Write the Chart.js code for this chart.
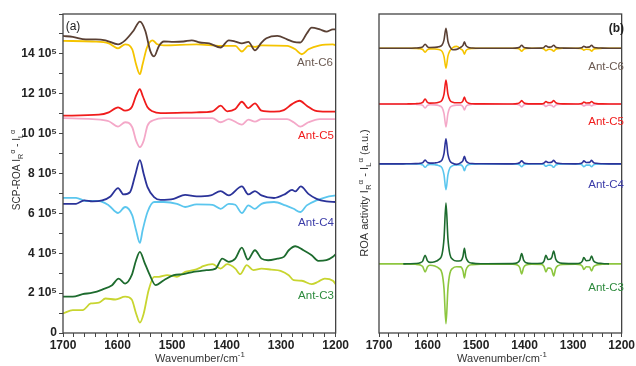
<!DOCTYPE html>
<html><head><meta charset="utf-8">
<script src="https://cdn.jsdelivr.net/npm/chart.js@4.4.1/dist/chart.umd.min.js"></script>
<style>
html,body{margin:0;padding:0;background:#fff;width:636px;height:366px;overflow:hidden}
#wrapL{position:absolute;left:0;top:0;width:350px;height:366px}
#wrapR{position:absolute;left:350px;top:0;width:286px;height:366px}
</style></head><body>
<div id="wrapL"><canvas id="cL" width="350" height="366"></canvas></div>
<div id="wrapR"><canvas id="cR" width="286" height="366"></canvas></div>
<script>
// ---------- DATA ----------
const seriesNames = ['Ant-C6','Ant-C5','Ant-C4','Ant-C3'];
const xTickLabels = [1700,1600,1500,1400,1300,1200];
const yTickLabels = [0,2,4,6,8,10,12,14]; // units of 10^5

// Left panel (a): SCP-ROA, values in 10^5 units, [wavenumber, value]
const aC6up = [[1700,14.9],[1682,14.85],[1658,14.73],[1640,14.73],[1622,14.68],[1599,14.48],[1586,14.68],[1571,15.15],[1559,15.62],[1549,15.15],[1540,14.15],[1533,13.87],[1524,14.4],[1515,14.62],[1497,14.6],[1479,14.62],[1464,14.68],[1449,14.57],[1432,14.53],[1411,14.32],[1396,14.68],[1384,14.62],[1372,14.53],[1360,14.6],[1348,14.18],[1336,14.57],[1327,14.78],[1307,14.9],[1289,14.73],[1277,14.6],[1265,14.57],[1253,15.02],[1244,15.32],[1229,15.23],[1217,15.12],[1205,15.23],[1200,15.22]];
const aC6down = [[1700,14.65],[1646,14.62],[1616,14.53],[1599,14.28],[1586,14.48],[1573,14.23],[1566,13.48],[1559,12.98],[1554,13.48],[1546,14.32],[1536,14.68],[1527,14.48],[1515,14.43],[1455,14.48],[1411,14.4],[1384,14.4],[1372,14.12],[1360,14.4],[1348,14.35],[1336,14.43],[1289,14.4],[1274,14.23],[1262,13.98],[1250,14.23],[1229,14.43],[1205,14.48],[1200,14.43]];
const aC5up = [[1700,10.9],[1634,10.95],[1616,11.07],[1599,11.32],[1586,11.15],[1574,11.32],[1566,11.9],[1559,12.23],[1554,11.9],[1545,11.32],[1536,11.12],[1521,11.03],[1455,11.07],[1426,11.12],[1411,11.4],[1399,11.12],[1384,11.23],[1372,11.6],[1360,11.28],[1348,11.52],[1336,11.15],[1313,11.1],[1295,11.18],[1280,11.48],[1266,11.65],[1253,11.4],[1238,11.15],[1217,11.1],[1200,11.1]];
const aC5down = [[1700,10.78],[1646,10.73],[1616,10.62],[1599,10.35],[1586,10.57],[1573,10.32],[1566,9.65],[1559,9.32],[1552,9.65],[1545,10.4],[1533,10.68],[1515,10.78],[1426,10.78],[1411,10.57],[1396,10.73],[1372,10.45],[1360,10.7],[1348,10.6],[1336,10.73],[1289,10.73],[1277,10.57],[1265,10.35],[1250,10.57],[1229,10.73],[1200,10.73]];
const aC4up = [[1700,6.48],[1676,6.48],[1661,6.65],[1646,6.6],[1628,6.65],[1613,6.85],[1599,7.27],[1589,6.95],[1577,7.07],[1567,7.98],[1559,8.67],[1552,7.98],[1545,7.32],[1533,6.82],[1521,6.68],[1497,6.73],[1476,6.93],[1455,6.85],[1429,6.9],[1411,7.12],[1396,6.9],[1372,7.35],[1360,6.95],[1348,7.12],[1336,6.9],[1313,6.77],[1292,6.98],[1280,7.18],[1274,7.1],[1264,7.35],[1250,6.98],[1235,6.73],[1217,6.6],[1200,6.57]];
const aC4down = [[1700,6.78],[1676,6.78],[1658,6.62],[1634,6.62],[1616,6.4],[1599,6.02],[1586,6.32],[1573,5.9],[1566,5.15],[1559,4.52],[1554,5.15],[1545,6.07],[1533,6.57],[1515,6.57],[1491,6.48],[1476,6.32],[1455,6.45],[1426,6.43],[1411,6.23],[1396,6.48],[1384,6.43],[1372,6.02],[1360,6.4],[1348,6.23],[1336,6.48],[1313,6.57],[1292,6.4],[1277,6.23],[1265,6.07],[1253,6.4],[1235,6.65],[1217,6.82],[1200,6.9]];
const aC3up = [[1700,1.82],[1682,1.82],[1664,1.95],[1646,2.02],[1628,2.18],[1610,2.4],[1598,2.73],[1586,2.48],[1574,2.9],[1566,3.65],[1559,4.07],[1551,3.57],[1542,2.98],[1530,2.4],[1515,2.65],[1497,2.9],[1479,2.95],[1461,3.07],[1449,3.1],[1437,3.15],[1420,3.23],[1408,3.73],[1396,3.57],[1384,3.73],[1372,4.28],[1361,3.68],[1348,4.15],[1336,3.73],[1324,3.65],[1307,3.73],[1295,3.82],[1286,4.15],[1274,4.35],[1259,4.15],[1244,3.9],[1232,3.62],[1217,3.65],[1205,3.82],[1200,3.95]];
const aC3down = [[1700,0.98],[1682,1.15],[1664,1.15],[1649,1.48],[1634,1.52],[1622,1.73],[1604,1.68],[1586,1.82],[1574,1.68],[1566,0.98],[1559,0.52],[1552,0.98],[1543,2.15],[1533,2.82],[1524,2.82],[1509,2.9],[1491,2.82],[1476,3.07],[1461,3.15],[1449,3.27],[1443,3.35],[1426,3.45],[1411,3.23],[1399,3.45],[1384,3.23],[1375,2.95],[1363,3.4],[1351,3.15],[1336,3.23],[1318,3.18],[1301,3.12],[1286,2.9],[1277,2.65],[1262,2.62],[1244,2.45],[1232,2.57],[1220,2.73],[1205,2.62],[1200,2.45]];

// Right panel (b): calculated ROA activity (a.u.), shared wavenumbers
const rightX = [1700,1650,1640,1625,1615,1610,1605,1600,1595,1585,1577,1570,1566,1562,1558,1554,1548,1540,1532,1527,1524,1521,1516,1508,1490,1425,1415,1410,1406,1402,1397,1385,1365,1360,1356,1352,1348,1344,1340,1336,1331,1320,1295,1285,1281,1278,1273,1266,1262,1258,1252,1240,1226,1200];
const rightOffsets = [285.7, 229.7, 169.7, 69.3]; // vertical stacking offsets of C6, C5, C4, C3
const bC6up = [0,0,0,0.2,0.6,1.3,4,1.4,0.7, 0.8,1.4,3.2,8.4,20,7,1.5,-1.5,-1.2, 0.8,2.8,6.5,2.8,0.8,0.2,0,0,0.3,1.1,3,1.1,0.3,0,0.1,0.8,2.5,1.3,1.1,1.5,3,1.1,0.4,0.1,0,0.2,0.8,2,1,1.3,3,1.1,0.4,0.1,0,0];
const bC6down = [0,0,0,-0.2,-0.6,-1.3,-4,-1.4,-0.7, -0.8,-1.4,-3.2,-8.4,-20,-8,-2.8,0.5,1.8, -0.6,-2.6,-6,-2.6,-0.8,-0.2,0,0,-0.3,-1.1,-3,-1.1,-0.3,0,-0.1,-0.8,-2.5,-1.3,-1.1,-1.5,-3,-1.1,-0.4,-0.1,0,-0.2,-0.8,-2,-1,-1.3,-3,-1.1,-0.4,-0.1,0,0];
const bC5up = [0,0,0.1,0.3,0.7,1.6,5,1.7,0.9, 1.0,1.7,3.9,10,24,10,3.9,1.8,1.2, 1.2,3.2,7,3.1,1.0,0.3,0.1,0,0.4,1.3,3.5,1.3,0.4,0.1,0.1,0.8,2.5,1.4,1.3,1.8,3.5,1.3,0.5,0.1,0,0.2,0.8,2,1.0,1.1,2.5,1.0,0.4,0.1,0,0];
const bC5down = [0,0,-0.1,-0.3,-0.6,-1.3,-4,-1.4,-0.8, -0.9,-1.6,-3.7,-9.6,-23,-9.6,-3.7,-1.7,-1.1, -1.1,-2.7,-6,-2.6,-0.9,-0.3,-0.1,0,-0.3,-1.1,-3,-1.1,-0.3,-0.1,-0.1,-0.8,-2.5,-1.3,-1.1,-1.5,-3,-1.1,-0.4,-0.1,0,-0.2,-0.8,-2,-0.9,-0.9,-2,-0.8,-0.3,-0.1,0,0];
const bC4up = [0,0,0.1,0.2,0.5,1.2,3.7,1.3,0.7, 0.9,1.7,4,10.5,25,9.5,3,0.6,-0.5, 1.0,3.3,7.6,3.3,1.0,0.3,0.1,0,0.3,1.1,3,1.1,0.3,0.1,0.1,0.8,2.5,1.4,1.3,1.8,3.5,1.3,0.5,0.1,0,0.3,1.2,3,1.4,1.5,3.5,1.3,0.5,0.1,0,0];
const bC4down = [0,0,-0.1,-0.2,-0.5,-1.1,-3.5,-1.2,-0.7, -1.0,-1.8,-4.2,-11,-26,-11,-4.2,-1.8,-1.1, -1.0,-3.0,-7,-3.0,-0.9,-0.3,-0.1,0,-0.3,-1.1,-3,-1.1,-0.3,-0.1,-0.1,-0.8,-2.5,-1.4,-1.3,-1.8,-3.5,-1.3,-0.5,-0.1,0,-0.3,-1.2,-3,-1.3,-1.3,-3,-1.1,-0.4,-0.1,0,0];
const bC3up = [null,0,0.2,0.4,1.2,2.8,8.7,3.0,1.5, 2.2,4.3,9.8,25.6,61,25.6,9.8,4.5,3.0, 3.2,7.5,15.7,7,2.2,0.8,0.2,0.3,1.2,3.8,10.4,3.8,1.2,0.4,0.6,2.8,8.7,4.5,4.6,6.5,13,5,1.8,0.5,0.3,1,2.8,6.4,3.2,3.6,8,3.2,1.2,0.4,0,null];
const bC3down = [0,0,-0.2,-0.4,-1.1,-2.6,-8,-2.8,-1.4, -2.1,-4.2,-9.6,-25,-60,-25,-9.6,-4.3,-2.9, -3.0,-6.8,-14,-6.3,-2.0,-0.7,-0.2,-0.3,-1.1,-3.6,-10,-3.6,-1.1,-0.4,-0.5,-2.6,-8,-4.2,-4.2,-6,-12,-4.6,-1.7,-0.5,-0.3,-0.9,-2.4,-5.5,-2.8,-3.2,-7,-2.8,-1.1,-0.4,0,0];

// ---------- STYLE ----------
const FAM = "'Liberation Sans', Arial, sans-serif";
const colUp = ['#5a4034','#f01c1c','#2b3399','#1d6b2e'];
const colDownA = ['#f5c400','#f4a8c8','#5bc6ee','#c8d530'];
const colDownB = ['#f5c400','#f4a8c8','#5bc6ee','#8dc63f'];
const labelCol = ['#6b5a52','#f01c1c','#3b3ca8','#2e8b3e'];

function drawRich(ctx, parts, cx, cy, size, color, rotate){
  ctx.save();
  ctx.translate(cx, cy);
  if (rotate) ctx.rotate(-Math.PI/2);
  ctx.fillStyle = color; ctx.textBaseline = 'alphabetic'; ctx.textAlign = 'left';
  const widths = parts.map(p => { ctx.font = (p.s ? size*0.72 : size) + 'px ' + FAM; return ctx.measureText(p.t).width; });
  const total = widths.reduce((a,b)=>a+b,0);
  let x = -total/2;
  parts.forEach((p,i) => {
    ctx.font = (p.s ? size*0.72 : size) + 'px ' + FAM;
    const dy = p.s === -1 ? size*0.3 : (p.s === 1 ? -size*0.42 : 0);
    ctx.fillText(p.t, x, size*0.36 + dy);
    x += widths[i];
  });
  ctx.restore();
}

const decoPlugin = {
  id: 'deco',
  afterDraw(chart, args, opts) {
    const {ctx, chartArea: a} = chart;
    ctx.save();
    ctx.strokeStyle = '#444'; ctx.lineWidth = 1.3;
    ctx.strokeRect(a.left, a.top, a.right - a.left, a.bottom - a.top);
    (opts.texts || []).forEach(t => {
      ctx.font = t.font; ctx.fillStyle = t.color; ctx.textAlign = t.align || 'center'; ctx.textBaseline = 'middle';
      ctx.fillText(t.text, t.x, t.y);
    });
    (opts.rich || []).forEach(r => drawRich(ctx, r.parts, r.x, r.y, r.size, r.color, r.rotate));
    ctx.restore();
  }
};

function xScale(){
  return {
    type: 'linear', reverse: true, min: 1200, max: 1700,
    afterFit: s => { s.height = 33; },
    ticks: { stepSize: 20, autoSkip: false, maxRotation: 0, padding: 1, color: '#222',
      font: { family: FAM, size: 12, weight: 'bold' },
      callback: v => xTickLabels.includes(v) ? String(v) : '' },
    grid: { drawOnChartArea: false, tickLength: 4, color: '#444' },
    border: { display: false }
  };
}

const lineDs = (arr, color, w) => ({
  data: arr.map(([x,y]) => ({x, y})), borderColor: color, borderWidth: w,
  pointRadius: 0, fill: false, cubicInterpolationMode: 'monotone'
});

const leftDatasets = [];
[[aC6up,aC6down],[aC5up,aC5down],[aC4up,aC4down],[aC3up,aC3down]].forEach((pair,i)=>{
  leftDatasets.push(lineDs(pair[0], colUp[i], 1.8));
  leftDatasets.push(lineDs(pair[1], colDownA[i], 1.8));
});

new Chart(document.getElementById('cL'), {
  type: 'line',
  data: { datasets: leftDatasets },
  options: {
    responsive: false, animation: false, devicePixelRatio: 1,
    layout: { padding: { top: 14, right: 7, left: 0, bottom: 0 } },
    plugins: { legend: { display: false }, tooltip: { enabled: false },
      deco: {
        texts: [
          { text: '(a)', x: 73, y: 27, font: '12px ' + FAM, color: '#222' },
          { text: seriesNames[0], x: 315, y: 63, font: '11.5px ' + FAM, color: labelCol[0] },
          { text: seriesNames[1], x: 316, y: 136, font: '11.5px ' + FAM, color: labelCol[1] },
          { text: seriesNames[2], x: 316, y: 223, font: '11.5px ' + FAM, color: labelCol[2] },
          { text: seriesNames[3], x: 316, y: 296, font: '11.5px ' + FAM, color: labelCol[3] }
        ],
        rich: [
          { parts: [{t:'SCP-ROA I'},{t:'R',s:-1},{t:'α',s:1},{t:' - I'},{t:'L',s:-1},{t:'α',s:1}], x: 16, y: 170, size: 10, color: '#333', rotate: true },
          { parts: [{t:'Wavenumber/cm'},{t:'-1',s:1}], x: 200, y: 358, size: 11, color: '#333' }
        ]
      }
    },
    scales: {
      x: xScale(),
      y: {
        min: 0, max: 16,
        afterFit: s => { s.width = 63; },
        ticks: { stepSize: 1, autoSkip: false, padding: 2, color: '#222',
          font: { family: FAM, size: 12, weight: 'bold' },
          callback: v => yTickLabels.includes(v) ? (v === 0 ? '0' : v + ' 10⁵') : '' },
        grid: { drawOnChartArea: false, tickLength: 4, color: '#444' },
        border: { display: false }
      }
    }
  },
  plugins: [decoPlugin]
});

const rightDatasets = [];
[[bC6up,bC6down],[bC5up,bC5down],[bC4up,bC4down],[bC3up,bC3down]].forEach((pair,i)=>{
  const base = rightOffsets[i];
  rightDatasets.push(lineDs(rightX.map((x,k)=>[x, pair[0][k] === null ? null : base + pair[0][k]]), colUp[i], 1.6));
  rightDatasets.push(lineDs(rightX.map((x,k)=>[x, pair[1][k] === null ? null : base + pair[1][k]]), colDownB[i], 1.6));
});

new Chart(document.getElementById('cR'), {
  type: 'line',
  data: { datasets: rightDatasets },
  options: {
    responsive: false, animation: false, devicePixelRatio: 1,
    layout: { padding: { top: 14, right: 10, left: 29, bottom: 0 } },
    plugins: { legend: { display: false }, tooltip: { enabled: false },
      deco: {
        texts: [
          { text: '(b)', x: 274, y: 29, font: 'bold 12px ' + FAM, color: '#222', align: 'right' },
          { text: seriesNames[0], x: 274, y: 67, font: '11.5px ' + FAM, color: labelCol[0], align: 'right' },
          { text: seriesNames[1], x: 274, y: 122, font: '11.5px ' + FAM, color: labelCol[1], align: 'right' },
          { text: seriesNames[2], x: 274, y: 185, font: '11.5px ' + FAM, color: labelCol[2], align: 'right' },
          { text: seriesNames[3], x: 274, y: 288, font: '11.5px ' + FAM, color: labelCol[3], align: 'right' }
        ],
        rich: [
          { parts: [{t:'ROA activity I'},{t:'R',s:-1},{t:'α',s:1},{t:' - I'},{t:'L',s:-1},{t:'α',s:1},{t:' (a.u.)'}], x: 14, y: 193, size: 11, color: '#333', rotate: true },
          { parts: [{t:'Wavenumber/cm'},{t:'-1',s:1}], x: 152, y: 358, size: 11, color: '#333' }
        ]
      }
    },
    scales: {
      x: xScale(),
      y: { display: false, min: 0, max: 320 }
    }
  },
  plugins: [decoPlugin]
});
</script>
</body></html>
